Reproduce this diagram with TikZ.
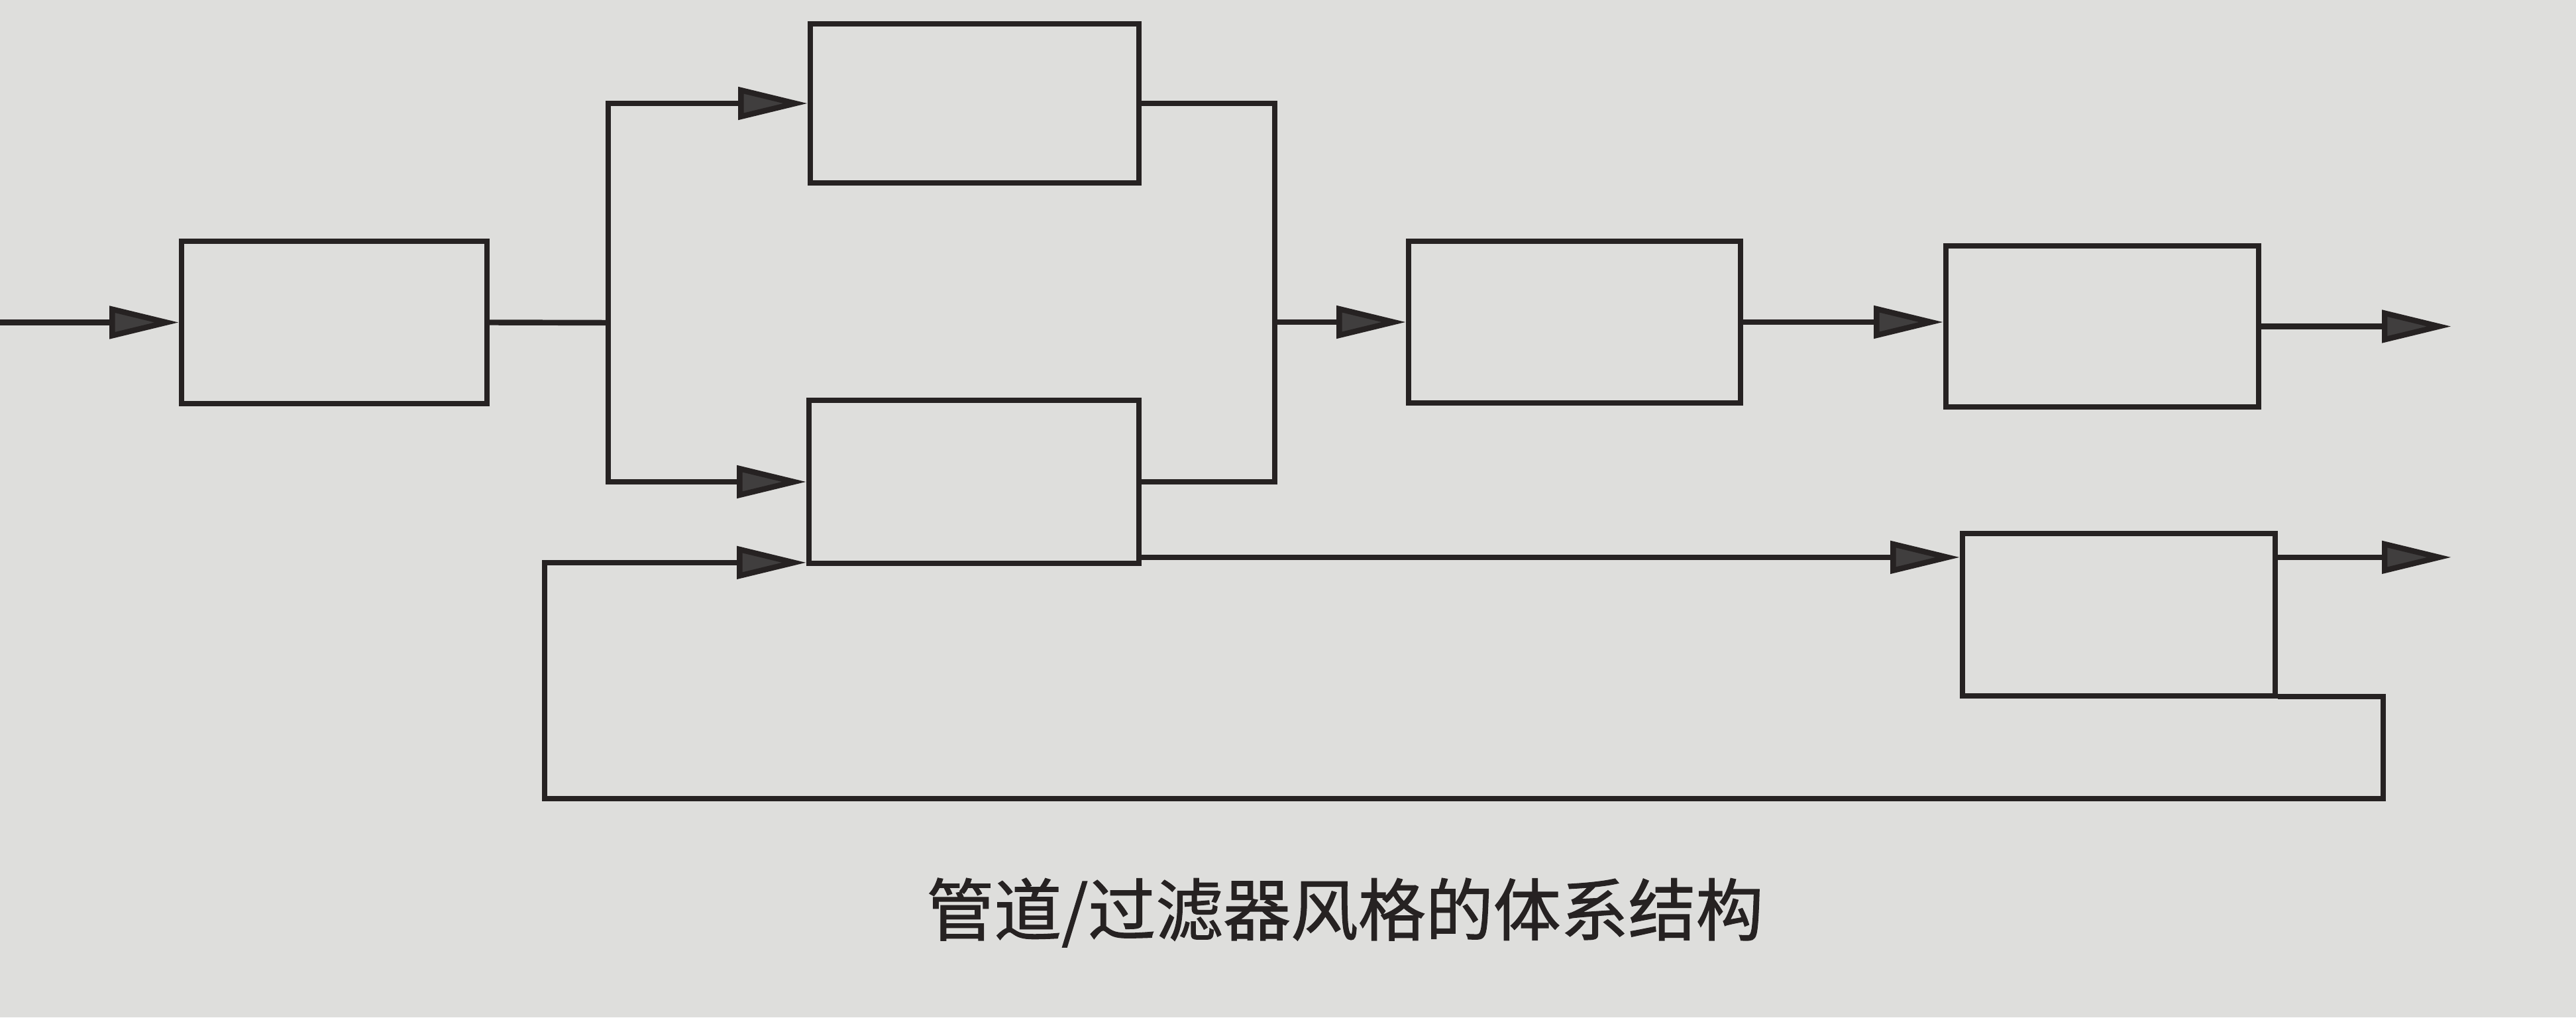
\documentclass[tikz,border=0pt]{standalone}
\usepackage{fontspec}
\usepackage{xcolor}
\usepackage{tikz}
\usetikzlibrary{arrows.meta, positioning, calc}
\newfontfamily\cjk[FakeBold=1.2]{Noto Sans CJK SC}
\definecolor{paperColor}{RGB}{222, 222, 220}
\definecolor{lineColor}{RGB}{38, 34, 34}
\definecolor{tipColor}{RGB}{64, 62, 62}

\begin{document}
\begin{tikzpicture}[
    filter/.style={draw=lineColor, line width=2.2pt, rectangle, inner sep=0pt},
    pipe/.style={draw=lineColor, line width=2.4pt},
    flow/.style={pipe, -{Triangle[length=1.05cm, width=0.48cm, fill=tipColor]}}
]
    % Paper
    \fill[paperColor] (0,0) rectangle (38.88,15.35);
    \useasboundingbox (0,0) rectangle (38.88,15.35);

    % Filters
    \foreach \name/\x/\y/\w/\h in {
        pre/5.045/10.485/4.61/2.45,
        up/14.71/13.79/4.96/2.40,
        down/14.70/8.08/4.98/2.46,
        mid/23.765/10.49/5.01/2.44,
        post/31.73/10.425/4.72/2.43,
        back/31.98/6.075/4.72/2.45
    } {
        \node[filter, minimum width=\w cm, minimum height=\h cm] (\name) at (\x,\y) {};
    }

    % Pipe ends and corners
    \coordinate (src) at (0,10.45);
    \coordinate (split) at (9.18,10.48);
    \coordinate (merge) at (19.24,10.49);
    \coordinate (sink) at (37.0,10.45);
    \coordinate (fbR) at (35.97,3.30);
    \coordinate (fbL) at (8.22,3.30);
    \coordinate (low) at ($(down.south east)+(0,0.13)$);

    % Pipes
    \draw[flow] (src |- pre.west) -- (pre.west);
    \draw[pipe] (pre.east) -- (split);
    \draw[flow] (split) |- (up.west);
    \draw[flow] (split) |- (down.west);
    \draw[pipe] (up.east) -| (merge);
    \draw[pipe] (down.east) -| (merge);
    \draw[flow] (merge) -- (mid.west);
    \draw[flow] (mid.east) -- (mid.east -| post.west);
    \draw[flow] (post.east) -- (post.east -| sink);
    \draw[flow] (low) -- (low -| back.west);
    \draw[flow] (low -| back.east) -- (low -| sink);

    % Feedback loop
    \draw[flow] ([yshift=0.3mm]back.south east) -| (fbR) -- (fbL) |- ([yshift=0.5mm]down.south west);

    % Caption
    \node[font=\cjk\fontsize{29}{31}\selectfont, text=lineColor] (caption) at (20.30,1.58) {管道/过滤器风格的体系结构};

\end{tikzpicture}
\end{document}
